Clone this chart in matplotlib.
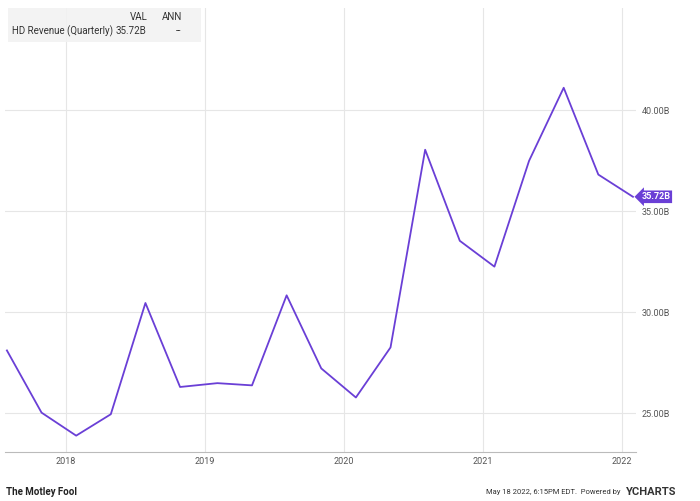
import matplotlib
matplotlib.use("Agg")
import matplotlib.pyplot as plt
import pandas as pd

dates = ["2017-07-30","2017-10-29","2018-01-28","2018-04-29","2018-07-29","2018-10-28","2019-02-03",
         "2019-05-05","2019-08-04","2019-11-03","2020-02-02","2020-05-03","2020-08-02","2020-11-01",
         "2021-01-31","2021-05-02","2021-08-01","2021-10-31","2022-01-30"]
revenue = [28.11,25.03,23.89,24.95,30.46,26.30,26.49,26.38,30.84,27.22,25.78,28.26,38.05,33.54,
           32.26,37.50,41.12,36.82,35.72]
x = pd.to_datetime(dates)
yticks = [25, 30, 35, 40]
ytick_labels = ["25.00B", "30.00B", "35.00B", "40.00B"]
years = ["2018", "2019", "2020", "2021", "2022"]

plt.rcParams['font.family'] = ['Roboto', 'DejaVu Sans']
fig = plt.figure(figsize=(7, 5.01), dpi=100)
ax = fig.add_axes([5/700, 49/501, 631/700, 444/501])
ax.plot(x, revenue, color="#6a3fd6", lw=1.3)
ax.set_xlim(pd.Timestamp("2017-07-25"), pd.Timestamp("2022-02-07"))
ax.set_ylim(23.08, 45.07)
ax.set_yticks(yticks)
ax.set_yticklabels(ytick_labels)
ax.yaxis.tick_right()
ax.set_xticks(pd.to_datetime([y + "-01-01" for y in years]))
ax.set_xticklabels(years)
ax.tick_params(axis="both", length=0, labelsize=6.5, colors="#555555")
ax.tick_params(axis="y", pad=4)
ax.grid(True, color="#e6e6e6", lw=0.8)
for s in ["top", "left", "right"]:
    ax.spines[s].set_visible(False)
ax.spines["bottom"].set_color("#bbbbbb")
ax.annotate("35.72B", xy=(x[-1], revenue[-1]), xytext=(6, 0), textcoords="offset points",
            va="center", ha="left", fontsize=6.5, color="white", fontweight="bold",
            bbox=dict(boxstyle="larrow,pad=0.2", fc="#6a3fd6", ec="none"), annotation_clip=False)
fig.patches.append(plt.Rectangle((8/700, 1-42/501), 193/700, 34/501, transform=fig.transFigure,
                                 fc="#f2f2f2", ec="none", alpha=0.9))
fs = 7
fig.text(130/700, 1-17/501, "VAL", fontsize=fs, color="#333", ha="left", va="center")
fig.text(162/700, 1-17/501, "ANN", fontsize=fs, color="#333", ha="left", va="center")
fig.text(12/700, 1-31/501, "HD Revenue (Quarterly)", fontsize=fs, color="#333", ha="left", va="center")
fig.text(116/700, 1-31/501, "35.72B", fontsize=fs, color="#333", ha="left", va="center")
fig.text(176/700, 1-31/501, "--", fontsize=fs, color="#333", ha="left", va="center")
fig.text(6/700, 1-492/501, "The Motley Fool", fontsize=7, fontweight="bold", color="#222", va="center")
fig.text(621/700, 1-492/501, "May 18 2022, 6:15PM EDT.  Powered by", fontsize=5.5, color="#333",
         ha="right", va="center")
fig.text(626/700, 1-492/501, "YCHARTS", fontsize=8, fontweight="bold", color="#333", va="center")
fig.savefig("out.png", dpi=100)
